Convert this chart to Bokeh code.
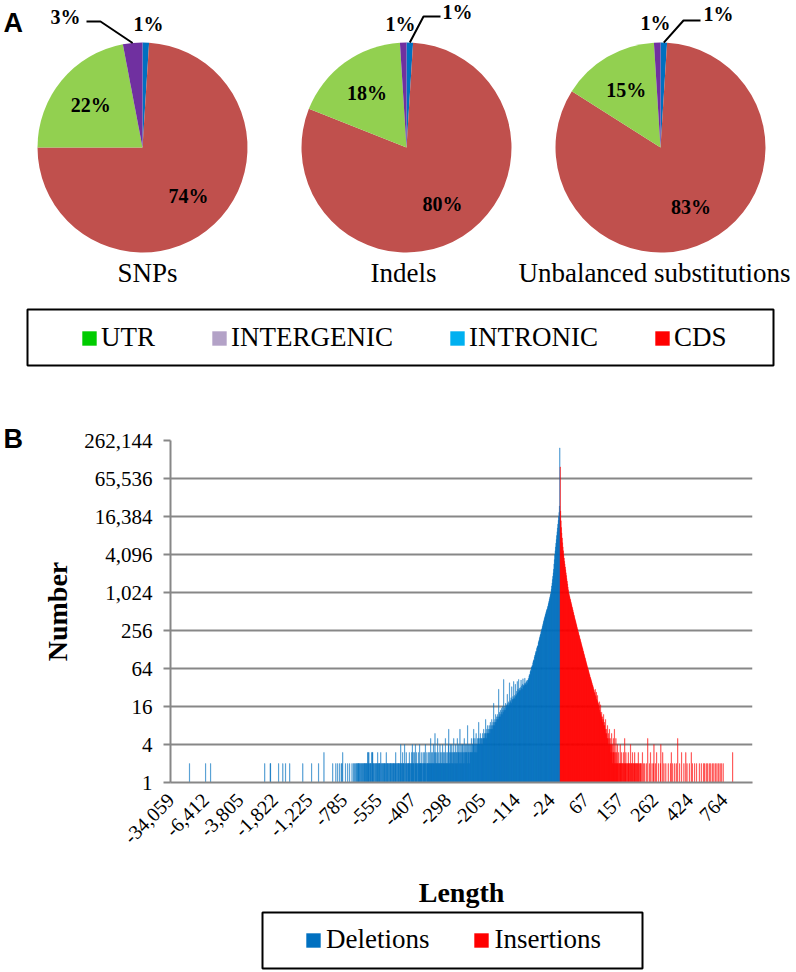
import math
from bokeh.plotting import figure
from bokeh.models import (ColumnDataSource, Range1d, FixedTicker, NumeralTickFormatter,
                          Legend, LegendItem)
from bokeh.layouts import column
from bokeh.embed import file_html
from bokeh.resources import INLINE
from bokeh.core.properties import value

SERIF = "Liberation Serif"
SANS = "Liberation Sans"

# ================= Panel A data =================
slice_regions = ["INTRONIC", "CDS", "UTR", "INTERGENIC"]   # clockwise from 12 o'clock
snps_pct = [1, 74, 22, 3]
indels_pct = [1, 80, 18, 1]
unbalanced_pct = [1, 83, 15, 1]
pie_titles = ["SNPs", "Indels", "Unbalanced substitutions"]
legend_regions = ["UTR", "INTERGENIC", "INTRONIC", "CDS"]

# ================= Panel B data =================
y_tick_values = [1, 4, 16, 64, 256, 1024, 4096, 16384, 65536, 262144]
x_tick_labels = ["-34,059", "-6,412", "-3,805", "-1,822", "-1,225", "-785", "-555",
                 "-407", "-298", "-205", "-114", "-24", "67", "157", "262", "424", "764"]
label_step = 90   # one tick label every 90 length categories

# deletion counts per length category (longest deletion first)
del_s0 = [1,1,1,1,1,1,1,1,1,1, 1,1,1,1,1,1,1,1,1,1, 1,1,1,1,1,1,1,1,1,1,
          1,1,1,1,1,1,1,1,1,1, 1,1,1,1,1,1,1,1,1,2, 1,1,1,1,1,1,1,1,1,1,
          1,1,1,1,1,1,1,1,1,1, 1,1,1,1,1,1,1,1,1,1, 1,1,1,1,1,1,1,1,1,1]
del_s1 = [1,2,1,1,1,1,1,1,1,1, 1,1,1,1,2,1,1,1,1,1, 1,1,1,1,1,1,1,1,1,1,
          1,1,1,1,1,1,1,1,1,1, 1,1,1,1,1,1,1,1,1,1, 1,1,1,1,1,1,1,1,1,1,
          1,1,1,1,1,1,1,1,1,1, 1,1,1,1,1,1,1,1,1,1, 1,1,1,1,1,1,1,1,1,1]
del_s2 = [1,1,1,1,1,1,1,1,1,1, 1,1,1,1,1,1,1,1,1,1, 1,1,1,1,1,1,1,1,1,1,
          1,1,1,1,1,1,1,1,1,1, 1,1,1,1,1,1,1,1,1,1, 1,1,1,1,1,1,1,1,1,1,
          1,1,1,1,1,2,1,1,1,1, 1,1,1,1,1,1,1,1,1,2, 2,1,1,1,1,1,1,1,1,1]
del_s3 = [1,1,1,1,1,1,1,1,1,1, 1,2,1,1,1,1,1,1,1,1, 1,1,2,1,1,1,1,1,1,2,
          1,1,1,1,1,1,1,1,1,1, 2,1,1,1,1,1,1,1,1,1, 1,1,1,1,1,1,1,1,1,1,
          1,1,1,1,1,1,1,1,1,1, 1,1,1,1,2,1,1,1,1,1, 1,1,1,1,1,1,1,1,1,1]
del_s4 = [1,1,1,1,1,1,1,2,1,1, 1,1,1,1,1,1,1,1,1,1, 1,1,1,1,1,2,1,1,1,1,
          1,1,1,1,1,1,1,1,1,3, 1,1,1,1,1,1,1,1,1,1, 1,1,1,1,1,1,1,1,1,1,
          1,1,2,1,1,1,1,1,1,1, 2,1,1,1,1,2,1,1,1,1, 2,1,1,1,2,1,2,1,3,1]
del_s5 = [1,1,1,1,1,2,1,1,1,1, 1,2,1,1,1,1,2,1,1,1, 1,1,2,1,1,1,2,1,2,1,
          1,2,1,2,1,2,2,1,2,2, 2,1,2,2,1,2,1,2,2,1, 2,2,1,2,2,2,1,2,2,2,
          2,1,2,3,3,2,3,2,1,2, 2,2,1,3,2,3,3,2,2,1, 2,1,2,2,1,2,2,1,2,3]
del_s6 = [2,2,1,2,2,2,1,3,2,1, 2,2,1,2,2,1,2,2,2,1, 2,3,2,1,2,2,2,1,2,2,
          1,2,2,2,1,2,2,2,1,2, 2,2,1,2,2,2,3,2,1,2, 2,1,2,2,2,1,2,2,2,4,
          2,2,1,2,3,2,2,2,1,4, 2,2,1,3,2,2,1,2,2,2, 2,3,2,2,1,2,2,3,2,4]
del_s7 = [2,3,2,2,3,1,2,4,2,2, 3,2,2,1,2,3,2,2,4,2, 2,2,3,2,2,2,1,3,2,2,
          3,2,2,4,2,1,2,3,2,2, 2,3,2,2,3,2,2,5,2,3, 2,2,3,2,4,2,2,3,6,2,
          3,2,2,3,2,5,2,2,3,2, 2,4,2,3,2,2,3,2,4,2, 3,2,2,3,2,5,2,3,2,2]
del_s8 = [2,3,2,4,7,2,3,2,3,4, 2,3,4,2,3,2,3,5,2,3, 3,2,4,3,2,3,5,2,3,3,
          4,2,3,7,3,2,4,3,2,4, 3,4,2,3,5,3,2,4,3,3, 4,3,2,8,3,4,3,2,4,3,
          3,4,3,5,3,4,3,4,5,7, 4,3,5,4,3,6,4,3,4,5, 4,5,9,4,5,4,6,5,4,5]
del_s9 = [5,4,6,5,5,7,5,6,5,6, 10,6,5,7,6,8,6,7,6,8, 7,6,9,7,8,7,10,8,7,9,
          8,18,9,8,10,9,12,9,10,11, 10,12,11,10,30,11,13,12,11,14,
          12,15,13,12,16,14,13,43,15,14, 16,14,18,15,17,16,25,17,18,16,
          19,17,38,18,20,19,22,18,33,21, 20,23,21,40,22,24,21,36,23,25]
del_s10 = [24,28,40,26,30,27,43,29,31,28, 32,29,42,31,34,30,36,44,33,35,
           34,37,45,36,38,35,41,39,37,42, 41,45,43,49,52,50,57,60,58,66,
           68,72,70,79,84,88,86,97,103,106, 114,121,118,133,140,147,145,164,171,180,
           192,203,217,225,241,252,268,283,300,318, 341,360,380,400,422,445,468,492,518,545,
           560,590,625,665,705,750,800,855,915,970]
del_s11 = [1024,1150,1300,1450,1650,1850,2100,2400,2900,3400,
           4096,4700,5400,6200,7100,8200,9400,10800,12400,14300,
           16400,19000,24000,200000]

# insertion counts per length category (+1 first)
ins_peak = [100000,20000,14000,11000,9000,7500,6300,5400,4700,4100,
            3600,3200,2900,2600,2350,2100,1900,1700,1550,1400,
            1250,1130,1024,965,910,860,810,765,720,680,
            640,605,570,540,505,480,450,425,400,380,
            360,340,320,305,285,270,256,243,230,218,
            207,196,186,176,167,158,150,142,135,128,
            121,115,109,103,98,93,88,83,79,75,
            71,67,64,61,58,55,52,50,47,45,
            43,41,39,37,35,34,32,30,29,27,
            26,30,24,23,27,21,20,24,19,18,
            17,16,19,14,13,17,12,11,13,10,
            11,9,10,12,8,9,8,7,10,6,
            7,6,5,8,5,6,4,5,7,4,
            5,4,3,4,6,3,4,2,5,3,
            3,7,2,3,2,5,2,3,2,4]
ins_tail = [2,2,3,1,2,2,4,2,2,3, 2,1,2,2,3,2,1,2,5,2, 2,3,1,2,2,1,2,3,2,2,
            1,2,2,4,1,2,2,1,3,2, 2,1,2,2,3,1,2,2,1,2, 2,2,1,3,2,1,2,1,2,2,
            1,2,1,1,3,1,1,2,1,1, 2,1,1,1,2,1,1,1,5,1, 1,1,2,1,1,3,1,1,1,2,
            1,1,1,2,4,1,1,1,2,1, 1,3,1,1,1,1,2,1,1,1, 1,2,4,1,1,1,1,3,1,1,
            2,1,1,1,1,2,1,1,1,1, 1,2,1,1,1,1,1,2,1,3, 1,1,1,2,1,1,1,1,2,1,
            1,1,2,1,1,1,5,1,1,1, 1,2,1,1,1,1,3,1,1,1, 1,1,2,1,1,1,1,3,1,1,
            2,1,1,1,1,1,2,1,1,1, 1,3,1,1,2,1,1,1,1,1, 2,1,1,1,1,2,1,1,1,1,
            1,1,2,1,1,1,1,2,1,1, 1,1,1,2,1,1,2,1,1,1, 2,1,1,1,2,1,1,1,2,1,
            1,1,2,1,1,1,2,1,1,1, 2,1,1,1,2,1,1,1,2,1, 1,1,2,1,1,1,2,1,1,2,
            1,1,1,1,2,1,1,1,1,1, 1,1,1,1,1,1,1,1,1,1, 1,1,1,1,1,1,1,1,1,3]
ins_far = [1,1,1,1,1,1,1,1,1,1, 1,1,1,1,1,1,1,1,1,1, 1,1,1,1,1,1,1,1,1,1,
           1,1,1,1,1,1,1,1,1,1, 1,1,1,1,1,1,1,1,1,1, 1]

# ================= styles / layout =================
slice_colors = {"INTRONIC": "#0070C0", "CDS": "#C0504D", "UTR": "#92D050", "INTERGENIC": "#7030A0"}
legend_colors = {"UTR": "#00CC00", "INTERGENIC": "#B3A2C7", "INTRONIC": "#00B0F0", "CDS": "#FF0000"}
DEL_COLOR = "#0070C0"
INS_COLOR = "#FF0000"
GRAY = "#878787"
W = 796
NAN = float("nan")

# ---------------- Panel A figure ----------------
HA = 410
figA = figure(width=W, height=HA, x_range=Range1d(0, W), y_range=Range1d(0, HA),
              x_axis_location=None, y_axis_location=None, min_border=0,
              output_backend="svg", toolbar_location=None)
figA.frame_align = False
figA.outline_line_color = None
figA.grid.visible = False

pie_cx = [142, 406, 660]
pie_cy = 263
R = 105
inner_frac = 0.64
title_pos = [(147, 138), (403, 138), (654, 138)]
small_layout = [
    {"INTERGENIC": ((65, 394), [(86, 389), (100, 389)]), "INTRONIC": ((148, 387), None)},
    {"INTERGENIC": ((400, 387), None), "INTRONIC": ((457, 399), [(440, 394), (423, 394)])},
    {"INTERGENIC": ((655, 388), None), "INTRONIC": ((718, 397), [(700, 390), (683, 390)])},
]

for j, pct in enumerate([snps_pct, indels_pct, unbalanced_pct]):
    cx = pie_cx[j]
    total = float(sum(pct))
    t0s, t1s = [], []
    acc = 0.0
    for v in pct:
        t0s.append(acc / total * 360.0)
        acc += v
        t1s.append(acc / total * 360.0)
    src = ColumnDataSource(dict(
        start=[math.radians(90 - t1) for t1 in t1s],
        end=[math.radians(90 - t0) for t0 in t0s],
        color=[slice_colors[r] for r in slice_regions],
        region=slice_regions, pct=pct))
    figA.wedge(x=cx, y=pie_cy, radius=R, start_angle="start", end_angle="end",
               fill_color="color", line_color=None, source=src)
    lx, ly, lt = [], [], []
    for k, reg in enumerate(slice_regions):
        mid = math.radians((t0s[k] + t1s[k]) / 2.0)
        txt = f"{pct[k]}%"
        if reg in small_layout[j]:
            (px, py), leader = small_layout[j][reg]
            lx.append(px); ly.append(py); lt.append(txt)
            if leader:
                ex = cx + R * math.sin(mid)
                ey = pie_cy + R * math.cos(mid)
                figA.line(x=[leader[0][0], leader[1][0], ex], y=[leader[0][1], leader[1][1], ey],
                          line_color="black", line_width=2)
        else:
            lx.append(cx + inner_frac * R * math.sin(mid))
            ly.append(pie_cy + inner_frac * R * math.cos(mid))
            lt.append(txt)
    figA.text(x=lx, y=ly, text=lt, text_font=value(SERIF), text_font_style="bold",
              text_font_size="20px", text_align="center", text_baseline="middle", text_color="black")

figA.text(x=[p[0] for p in title_pos], y=[p[1] for p in title_pos], text=pie_titles,
          text_font=value(SERIF), text_font_size="27px", text_align="center",
          text_baseline="middle", text_color="black")
figA.text(x=[3], y=[388], text=["A"], text_font=value(SANS), text_font_style="bold",
          text_font_size="27px", text_align="left", text_baseline="middle", text_color="black")

# legend A
figA.quad(left=27, right=773, bottom=45, top=101, fill_color=None, line_color="black", line_width=2)
legA_items = []
for name in legend_regions:
    r = figA.rect(x=[NAN], y=[NAN], width=1, height=1, fill_color=legend_colors[name], line_color=None)
    legA_items.append(LegendItem(label=name, renderers=[r]))
legA = Legend(items=legA_items, orientation="horizontal", location=(80, 57), padding=0, margin=0,
              spacing=55, border_line_color=None, background_fill_alpha=0,
              label_text_font=SERIF, label_text_font_size="27px", label_text_color="black",
              glyph_width=18, glyph_height=18, label_standoff=3)
figA.add_layout(legA)

# ---------------- Panel B figure ----------------
del_counts = del_s0 + del_s1 + del_s2 + del_s3 + del_s4 + del_s5 + del_s6 + del_s7 + del_s8 + del_s9 + del_s10 + del_s11
ins_counts = ins_peak + ins_tail + ins_far
n_del = len(del_counts)
n_all = n_del + len(ins_counts)

figB = figure(width=W, height=500, x_range=Range1d(-0.5, n_all - 0.5),
              y_range=Range1d(y_tick_values[0], y_tick_values[-1]), y_axis_type="log",
              title="B", output_backend="svg", toolbar_location=None,
              min_border_left=170, min_border_right=44, min_border_top=30, min_border_bottom=124)
figB.frame_align = False
figB.outline_line_color = None
figB.title.align = "left"
figB.title.offset = -167
figB.title.standoff = -27
figB.title.text_font = SANS
figB.title.text_font_style = "bold"
figB.title.text_font_size = "27px"
figB.title.text_color = "black"

srcD = ColumnDataSource(dict(x=list(range(n_del)), top=del_counts))
srcI = ColumnDataSource(dict(x=list(range(n_del, n_all)), top=ins_counts))
figB.vbar(x="x", top="top", bottom=1, width=1, fill_color=DEL_COLOR, line_color=DEL_COLOR,
          line_width=0.3, source=srcD)
figB.vbar(x="x", top="top", bottom=1, width=1, fill_color=INS_COLOR, line_color=INS_COLOR,
          line_width=0.3, source=srcI)

xa = figB.xaxis[0]
xticks = [i * label_step for i in range(len(x_tick_labels))]
xa.ticker = FixedTicker(ticks=xticks)
xa.major_label_overrides = {t: lab for t, lab in zip(xticks, x_tick_labels)}
xa.major_label_orientation = math.pi / 4
xa.major_label_text_font = SERIF
xa.major_label_text_font_size = "20px"
xa.major_label_text_color = "black"
xa.major_label_standoff = 14
xa.major_tick_out = 0
xa.major_tick_in = 0
xa.minor_tick_out = 0
xa.minor_tick_in = 0
xa.axis_line_color = GRAY
xa.axis_line_width = 2
xa.axis_label = "Length"
xa.axis_label_text_font = SERIF
xa.axis_label_text_font_style = "bold"
xa.axis_label_text_font_size = "28px"
xa.axis_label_text_color = "black"
xa.axis_label_standoff = 24

ya = figB.yaxis[0]
ya.ticker = FixedTicker(ticks=y_tick_values)
ya.formatter = NumeralTickFormatter(format="0,0")
ya.major_label_text_font = SERIF
ya.major_label_text_font_size = "21px"
ya.major_label_text_color = "black"
ya.major_label_standoff = 11
ya.major_tick_out = 7
ya.major_tick_in = 0
ya.major_tick_line_color = GRAY
ya.major_tick_line_width = 2
ya.minor_tick_out = 0
ya.minor_tick_in = 0
ya.axis_line_color = GRAY
ya.axis_line_width = 2
ya.axis_label = "Number"
ya.axis_label_text_font = SERIF
ya.axis_label_text_font_style = "bold"
ya.axis_label_text_font_size = "28px"
ya.axis_label_text_color = "black"
ya.axis_label_standoff = 8

figB.ygrid.ticker = FixedTicker(ticks=y_tick_values)
figB.ygrid.grid_line_color = GRAY
figB.ygrid.grid_line_width = 2
figB.xgrid.visible = False

# ---------------- Legend B figure ----------------
HC = 62
figC = figure(width=W, height=HC, x_range=Range1d(0, W), y_range=Range1d(0, HC),
              x_axis_location=None, y_axis_location=None, min_border=0,
              output_backend="svg", toolbar_location=None)
figC.frame_align = False
figC.outline_line_color = None
figC.grid.visible = False
figC.quad(left=262, right=642, bottom=4, top=60, fill_color=None, line_color="black", line_width=2)
dD = figC.rect(x=[NAN], y=[NAN], width=1, height=1, fill_color=DEL_COLOR, line_color=None)
dI = figC.rect(x=[NAN], y=[NAN], width=1, height=1, fill_color=INS_COLOR, line_color=None)
legB = Legend(items=[LegendItem(label="Deletions", renderers=[dD]),
                     LegendItem(label="Insertions", renderers=[dI])],
              orientation="horizontal", location=(304, 17), padding=0, margin=0, spacing=43,
              border_line_color=None, background_fill_alpha=0,
              label_text_font=SERIF, label_text_font_size="27px", label_text_color="black",
              glyph_width=18, glyph_height=18, label_standoff=4)
figC.add_layout(legB)

page = column(figA, figB, figC)
open("out.html", "w").write(file_html(page, INLINE))
